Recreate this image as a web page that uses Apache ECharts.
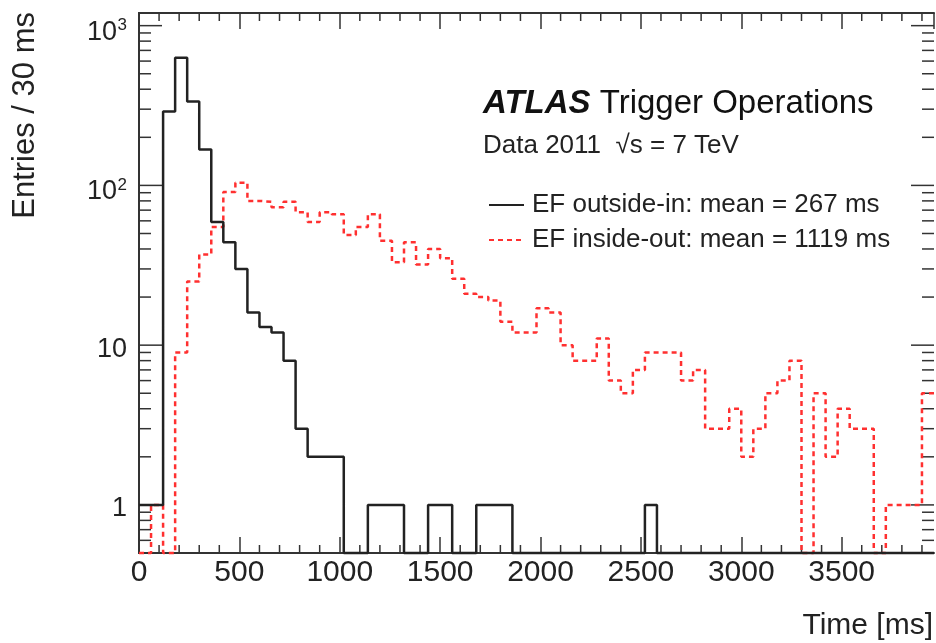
<!DOCTYPE html>
<html lang="en">

<head>
  <meta charset="UTF-8">
  <title>EF tracking time</title>
  <style>
    html, body { margin: 0; padding: 0; background: #fff; }
    #chart { width: 936px; height: 643px; }
  </style>
</head>

<body>
  <div id="chart"></div>
  <script src="https://cdn.jsdelivr.net/npm/echarts@6.0.0/dist/echarts.min.js"></script>
  <script>
    // histogram bins, 60 ms wide, 0 .. 3960 ms
    var binWidth = 60;
    var xMax = 3960;
    var yMin = 0.5;
    var yMax = 1200;

    // EF outside-in (black, solid)
    var outsideIn = [1, 1, 290, 630, 335, 168, 59, 44, 30, 16, 13, 12, 8, 3, 2, 2,
      2, 0, 0, 1, 1, 1, 0, 0, 1, 1, 0, 0, 1, 1, 1, 0,
      0, 0, 0, 0, 0, 0, 0, 0, 0, 0, 1, 0, 0, 0, 0, 0,
      0, 0, 0, 0, 0, 0, 0, 0, 0, 0, 0, 0, 0, 0, 0, 0, 0, 0];

    // EF inside-out (red, dashed)
    var insideOut = [0, 1, 0, 9, 25, 37, 55, 91, 104, 80, 79, 73, 79, 68, 59, 68,
      66, 49, 55, 66, 45, 33, 44, 32, 40, 35, 26, 21, 20, 19, 14, 12,
      12, 17, 16, 10, 8, 8, 11, 6, 5, 7, 9, 9, 9, 6, 7, 3,
      3, 4, 2, 3, 5, 6, 8, 0, 5, 2, 4, 3, 3, 0, 1, 1, 1, 5];

    var seriesNames = ['EF outside-in: mean = 267 ms', 'EF inside-out: mean = 1119 ms'];

    var xMinorTicks = [];
    for (var t = 100; t < xMax; t += 100) {
      if (t % 500 !== 0) xMinorTicks.push([t, 1]);
    }
    // log axis ticks: decades long, 2..9 short
    var yTicks = [];
    [0.1, 1, 10, 100, 1000].forEach(function (d) {
      for (var m = 1; m <= 9; m++) {
        var v = +(m * d).toFixed(3);
        if (v >= yMin && v <= yMax) yTicks.push([0, v, m === 1 ? 23 : 12]);
      }
    });

    var axisColor = '#333';
    var font = 'Liberation Sans, Arial, Helvetica, sans-serif';

    // empty bins drawn on the frame floor like ROOT does
    function histPoints(counts) {
      var pts = counts.map(function (c, i) {
        return [i * binWidth, Math.max(c, yMin)];
      });
      pts.push([counts.length * binWidth, Math.max(counts[counts.length - 1], yMin)]);
      return pts;
    }

    function yLabel(v) {
      var e = Math.log10(v);
      if (Math.abs(e - Math.round(e)) > 1e-6) return '';
      e = Math.round(e);
      if (e === 0) return '{c|1}';
      if (e === 1) return '{c|10}';
      return '{b|10}{s|' + e + '}';
    }

    var chart = echarts.init(document.getElementById('chart'));

    var xAxisBase = {
      type: 'value',
      min: 0,
      max: xMax,
      interval: 500,
      splitLine: { show: false },
      axisLine: { show: true, onZero: false, lineStyle: { color: axisColor, width: 2 } },
      axisTick: { show: true, inside: true, length: 16, lineStyle: { color: axisColor, width: 1.5 } }
    };

    var yAxisBase = {
      type: 'log',
      logBase: 10,
      min: yMin,
      max: yMax,
      splitLine: { show: false },
      axisLine: { show: true, lineStyle: { color: axisColor, width: 2 } },
      axisTick: { show: false }
    };

    var option = {
      backgroundColor: '#fff',
      animation: false,
      grid: { left: 139, right: 2, top: 13, bottom: 90 },
      xAxis: [
        Object.assign({}, xAxisBase, {
          position: 'bottom',
          axisLabel: {
            show: true, margin: 5, showMaxLabel: false,
            fontSize: 30, fontFamily: font, color: '#222',
            formatter: function (v) { return String(v); }
          }
        }),
        Object.assign({}, xAxisBase, { position: 'top', axisLabel: { show: false } })
      ],
      yAxis: [
        Object.assign({}, yAxisBase, {
          position: 'left',
          axisLabel: {
            show: true, margin: 12, fontSize: 27, fontFamily: font, color: '#222',
            formatter: yLabel,
            rich: {
              b: { fontSize: 27, fontFamily: font, color: '#222', lineHeight: 30, padding: [13, 0, 0, 0] },
              c: { fontSize: 27, fontFamily: font, color: '#222', lineHeight: 30, padding: [8, 0, 0, 0] },
              s: { fontSize: 17, fontFamily: font, color: '#222', lineHeight: 17, width: 10, verticalAlign: 'top', padding: [6, 0, 0, 0] }
            }
          }
        }),
        Object.assign({}, yAxisBase, { position: 'right', axisLabel: { show: false } })
      ],
      legend: {
        orient: 'vertical',
        left: 483,
        top: 187,
        itemWidth: 35,
        itemHeight: 14,
        itemGap: 9,
        data: seriesNames,
        itemStyle: { opacity: 0 },
        textStyle: { fontSize: 26, fontFamily: font, color: '#222', padding: [0, 0, 0, 3] }
      },
      graphic: [
        {
          type: 'text', x: 483, y: 104,
          style: {
            text: '{a|ATLAS} Trigger Operations',
            fill: '#111', font: '33px ' + font, verticalAlign: 'middle',
            rich: { a: { fontSize: 33, fontWeight: 'bold', fontStyle: 'italic', fontFamily: font, fill: '#111' } }
          }
        },
        {
          type: 'text', x: 483, y: 146,
          style: { text: 'Data 2011  √s = 7 TeV', fill: '#222', font: '26px ' + font, verticalAlign: 'middle' }
        },
        {
          type: 'text', x: 933, y: 626,
          style: { text: 'Time [ms]', fill: '#222', font: '30px ' + font, align: 'right', verticalAlign: 'middle' }
        },
        {
          type: 'text', x: 25, y: 12, rotation: Math.PI / 2,
          style: { text: 'Entries / 30 ms', fill: '#222', font: '31px ' + font, align: 'right', verticalAlign: 'middle' }
        }
      ],
      series: [
        {
          name: seriesNames[0],
          type: 'line',
          step: 'end',
          symbol: 'none',
          clip: false,
          data: histPoints(outsideIn),
          lineStyle: { color: '#222', width: 2.5 },
          itemStyle: { color: '#222' },
          z: 3
        },
        {
          name: seriesNames[1],
          type: 'line',
          step: 'end',
          symbol: 'none',
          clip: false,
          data: histPoints(insideOut),
          lineStyle: { color: '#ff3030', width: 2.5, type: [5, 4] },
          itemStyle: { color: '#ff3030' },
          z: 2
        },
        {
          // log axis ticks, drawn inward on both sides
          type: 'custom',
          silent: true,
          data: yTicks,
          renderItem: function (params, api) {
            var cs = params.coordSys;
            var y = api.coord([0, api.value(1)])[1];
            var len = api.value(2);
            var st = { stroke: axisColor, lineWidth: 1.5 };
            return {
              type: 'group', children: [
                { type: 'line', shape: { x1: cs.x, y1: y, x2: cs.x + len, y2: y }, style: st },
                { type: 'line', shape: { x1: cs.x + cs.width - len, y1: y, x2: cs.x + cs.width, y2: y }, style: st }
              ]
            };
          }
        },
        {
          // minor ticks every 100 ms, bottom and top
          type: 'custom',
          silent: true,
          data: xMinorTicks,
          renderItem: function (params, api) {
            var cs = params.coordSys;
            var x = api.coord([api.value(0), 1])[0];
            var st = { stroke: axisColor, lineWidth: 1.5 };
            return {
              type: 'group', children: [
                { type: 'line', shape: { x1: x, y1: cs.y + cs.height, x2: x, y2: cs.y + cs.height - 8 }, style: st },
                { type: 'line', shape: { x1: x, y1: cs.y, x2: x, y2: cs.y + 8 }, style: st }
              ]
            };
          }
        }
      ]
    };

    chart.setOption(option);
  </script>
</body>

</html>
